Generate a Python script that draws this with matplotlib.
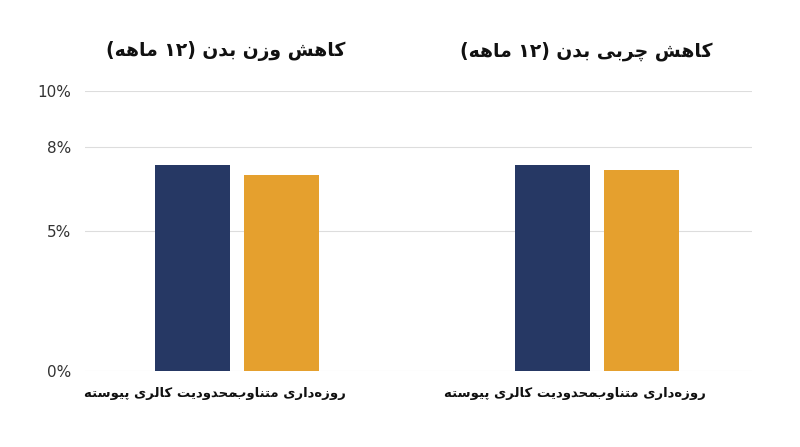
import matplotlib
matplotlib.use("Agg")
import matplotlib.pyplot as plt
import matplotlib.transforms as mtransforms

titles = ["کاهش وزن بدن (۱۲ ماهه)", "کاهش چربی بدن (۱۲ ماهه)"]
series_names = ["محدودیت کالری پیوسته", "روزه‌داری متناوب"]
continuous = [7.35, 7.35]
intermittent = [7.0, 7.2]
ytick_vals = [0, 5, 8, 10]
ytick_labels = ["0%", "5%", "8%", "10%"]

# minimal Persian shaping: (isolated, final, initial, medial); 2-tuple = right-joining only
FORMS = {
    'ا': (0xFE8D, 0xFE8E), 'د': (0xFEA9, 0xFEAA), 'ر': (0xFEAD, 0xFEAE),
    'ز': (0xFEAF, 0xFEB0), 'و': (0xFEED, 0xFEEE),
    'ب': (0xFE8F, 0xFE90, 0xFE91, 0xFE92), 'پ': (0xFB56, 0xFB57, 0xFB58, 0xFB59),
    'ت': (0xFE95, 0xFE96, 0xFE97, 0xFE98), 'چ': (0xFB7A, 0xFB7B, 0xFB7C, 0xFB7D),
    'ح': (0xFEA1, 0xFEA2, 0xFEA3, 0xFEA4), 'س': (0xFEB1, 0xFEB2, 0xFEB3, 0xFEB4),
    'ش': (0xFEB5, 0xFEB6, 0xFEB7, 0xFEB8), 'ک': (0xFB8E, 0xFB8F, 0xFB90, 0xFB91),
    'ل': (0xFEDD, 0xFEDE, 0xFEDF, 0xFEE0), 'م': (0xFEE1, 0xFEE2, 0xFEE3, 0xFEE4),
    'ن': (0xFEE5, 0xFEE6, 0xFEE7, 0xFEE8), 'ه': (0xFEE9, 0xFEEA, 0xFEEB, 0xFEEC),
    'ی': (0xFBFC, 0xFBFD, 0xFBFE, 0xFBFF),
}


def shape(s):
    out = []
    for i, c in enumerate(s):
        if c not in FORMS:
            out.append(c)
            continue
        f = FORMS[c]
        prev = s[i - 1] if i > 0 else ''
        nxt = s[i + 1] if i + 1 < len(s) else ''
        jp = prev in FORMS and len(FORMS[prev]) == 4
        jn = len(f) == 4 and nxt in FORMS
        if jp and jn:
            out.append(chr(f[3]))
        elif jp:
            out.append(chr(f[1]))
        elif jn:
            out.append(chr(f[2]))
        else:
            out.append(chr(f[0]))
    return ''.join(c for c in out if c != '\u200c')


def rtl(s):
    t = shape(s)[::-1]
    t = t.translate(str.maketrans("()", ")("))
    # digits keep LTR order
    res, run = '', ''
    for c in t:
        if c in '۰۱۲۳۴۵۶۷۸۹':
            run += c
        else:
            res += run[::-1] + c
            run = ''
    return res + run[::-1]


plt.rcParams['font.family'] = ['DejaVu Sans']
fig = plt.figure(figsize=(8, 4.47), dpi=100)
ax = fig.add_axes([0.106, 0.17, 0.834, 0.626])

dark = '#263864'
orange = '#E5A02E'
x = [0, 1]
w = 0.208
off = 0.124
ax.bar([i - off for i in x], continuous, w, color=dark, zorder=3)
ax.bar([i + off for i in x], intermittent, w, color=orange, zorder=3)

ax.set_xlim(-0.422, 1.431)
ax.set_ylim(0, 10)
ax.set_yticks(ytick_vals)
ax.set_yticklabels(ytick_labels, fontsize=11, color='#333333')
ax.set_xticks([])
ax.grid(axis='y', color='#dddddd', lw=0.8, zorder=0)
ax.tick_params(axis='y', length=0, pad=10)
for sp in ax.spines.values():
    sp.set_visible(False)

trans = mtransforms.blended_transform_factory(ax.transData, fig.transFigure)
for i in x:
    ax.text(i - 0.03, 0.885, rtl(titles[i]), transform=trans, ha='center',
            va='center', fontsize=13.5, fontweight='bold', color='#111111')
    ax.text(i - 0.214, 0.12, rtl(series_names[0]), transform=trans, ha='center',
            va='center', fontsize=9.5, fontweight='bold', color='#111111')
    ax.text(i + 0.147, 0.12, rtl(series_names[1]), transform=trans, ha='center',
            va='center', fontsize=9.5, fontweight='bold', color='#111111')

fig.savefig('out.png', dpi=100, facecolor='white')
